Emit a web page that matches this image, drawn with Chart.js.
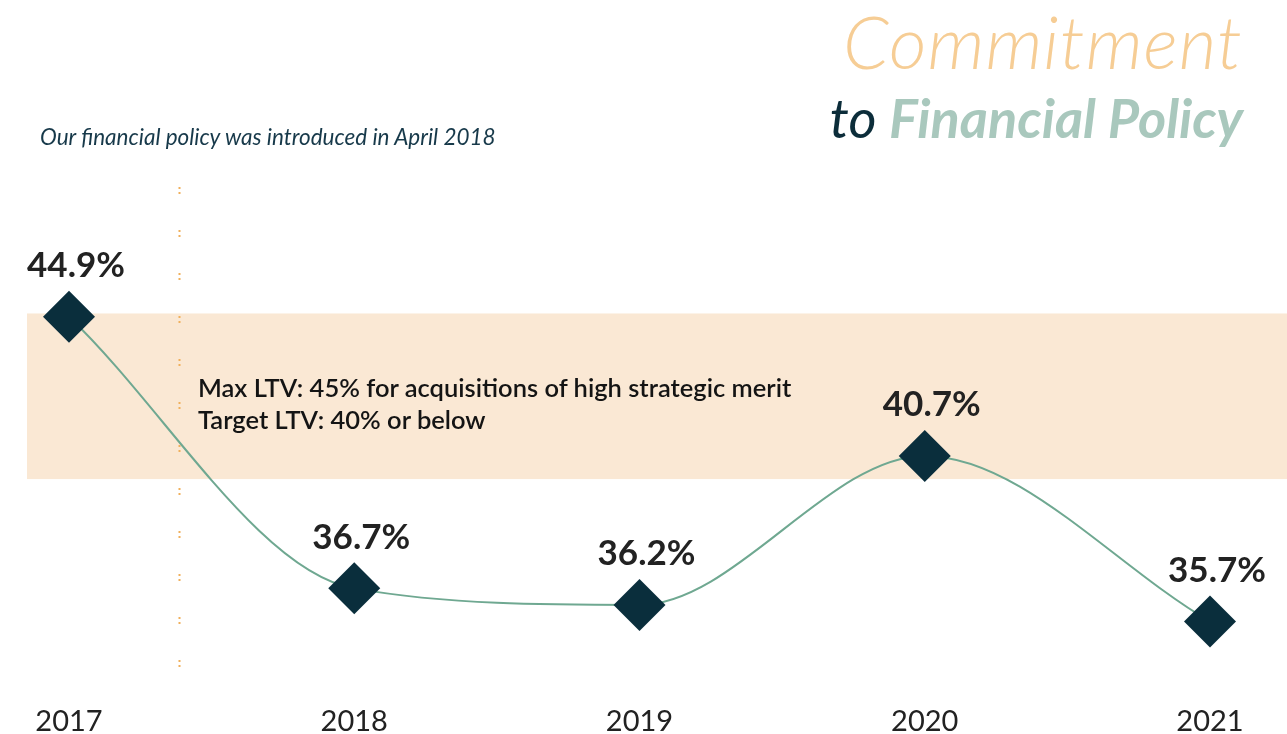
<!DOCTYPE html>
<html>
<head>
<meta charset="utf-8">
<script src="https://cdn.jsdelivr.net/npm/chart.js@4"></script>
<style>
  html, body { margin: 0; padding: 0; background: #fff; }
  #wrap { position: relative; width: 1287px; height: 734px; overflow: hidden; }
  #ltv { position: absolute; left: 0; top: 0; }
  .title1 { position: absolute; right: 44px; top: -2px; font-family: Lato, "Open Sans", sans-serif; font-style: italic; font-weight: 300; font-size: 73px; color: #f6cd95; letter-spacing: 1px; line-height: 86px; }
  .title2 { position: absolute; right: 44px; top: 86px; font-family: Lato, "Open Sans", sans-serif; font-style: italic; font-size: 54px; line-height: 64px; }
  .title2 .to { color: #0c2d3a; font-weight: 400; }
  .title2 .fp { color: #a9c8bd; font-weight: 700; }
  .sub { position: absolute; left: 40px; top: 122px; font-family: Lato, "Open Sans", sans-serif; font-style: italic; font-size: 22.5px; color: #17394a; line-height: 30px; }
  .note { position: absolute; left: 198px; top: 371px; font-family: Lato, "Open Sans", sans-serif; font-weight: 600; font-size: 25.5px; color: #141414; line-height: 32px; }
</style>
</head>
<body>
<div id="wrap">
  <canvas id="ltv" width="1287" height="734"></canvas>
  <div class="title1">Commitment</div>
  <div class="title2"><span class="to">to </span><span class="fp">Financial Policy</span></div>
  <div class="sub">Our financial policy was introduced in April 2018</div>
  <div class="note">Max LTV: 45% for acquisitions of high strategic merit<br>Target LTV: 40% or below</div>
</div>
<script>
// LTV ratio by fiscal year
var years = ['2017', '2018', '2019', '2020', '2021'];
var ltvValues = [44.9, 36.7, 36.2, 40.7, 35.7];
var ltvLabels = ['44.9%', '36.7%', '36.2%', '40.7%', '35.7%'];
// policy band (target 40% .. max 45%)
var bandMin = 40;
var bandMax = 45;
// policy introduced in April 2018 (position between 2017 and 2018)
var policyIntro = 0.385;

var bandPlugin = {
    id: 'band',
    beforeDatasetsDraw: function (chart) {
        var ctx = chart.ctx;
        var y = chart.scales.y;
        var x = chart.scales.x;
        var top = y.getPixelForValue(bandMax);
        var bottom = y.getPixelForValue(bandMin);
        ctx.save();
        ctx.fillStyle = '#fae8d4';
        ctx.fillRect(27, top, chart.width - 27, bottom - top);

        // dotted marker for policy introduction
        var px = Math.round(x.getPixelForValue(policyIntro)) + 0.5;
        ctx.strokeStyle = '#f0b05c';
        ctx.lineWidth = 2;
        ctx.setLineDash([2, 3, 2, 36]);
        ctx.beginPath();
        ctx.moveTo(px, chart.chartArea.top + 6);
        ctx.lineTo(px, chart.chartArea.bottom - 12);
        ctx.stroke();
        ctx.restore();
    }
};

var labelPlugin = {
    id: 'valueLabels',
    afterDatasetsDraw: function (chart) {
        var ctx = chart.ctx;
        var meta = chart.getDatasetMeta(0);
        ctx.save();
        ctx.font = 'bold 35px Lato, "Open Sans", sans-serif';
        ctx.fillStyle = '#222222';
        ctx.textAlign = 'center';
        ctx.textBaseline = 'middle';
        meta.data.forEach(function (pt, i) {
            ctx.fillText(ltvLabels[i], pt.x + 7, pt.y - 51);
        });
        ctx.restore();
    }
};

var ctx = document.getElementById('ltv').getContext('2d');
var ltvChart = new Chart(ctx, {
    type: 'line',
    data: {
        labels: years,
        datasets: [{
            data: ltvValues,
            borderColor: '#6fa891',
            borderWidth: 2,
            cubicInterpolationMode: 'monotone',
            pointStyle: 'rectRot',
            pointRadius: 26,
            pointHoverRadius: 26,
            pointBackgroundColor: '#0a2e3c',
            pointBorderColor: '#0a2e3c',
            pointBorderWidth: 0,
            clip: false,
            fill: false
        }]
    },
    options: {
        responsive: false,
        animation: false,
        layout: {
            padding: { left: 69, right: 77, top: 181, bottom: -13 }
        },
        plugins: {
            legend: { display: false },
            tooltip: { enabled: false }
        },
        scales: {
            x: {
                offset: false,
                border: { display: false },
                grid: { display: false, drawTicks: false },
                ticks: {
                    padding: 11,
                    color: '#222222',
                    font: { family: 'Lato, sans-serif', size: 29, lineHeight: 1 }
                }
            },
            y: {
                display: false,
                min: 33.45,
                max: 49
            }
        }
    },
    plugins: [bandPlugin, labelPlugin]
});
</script>
</body>
</html>
